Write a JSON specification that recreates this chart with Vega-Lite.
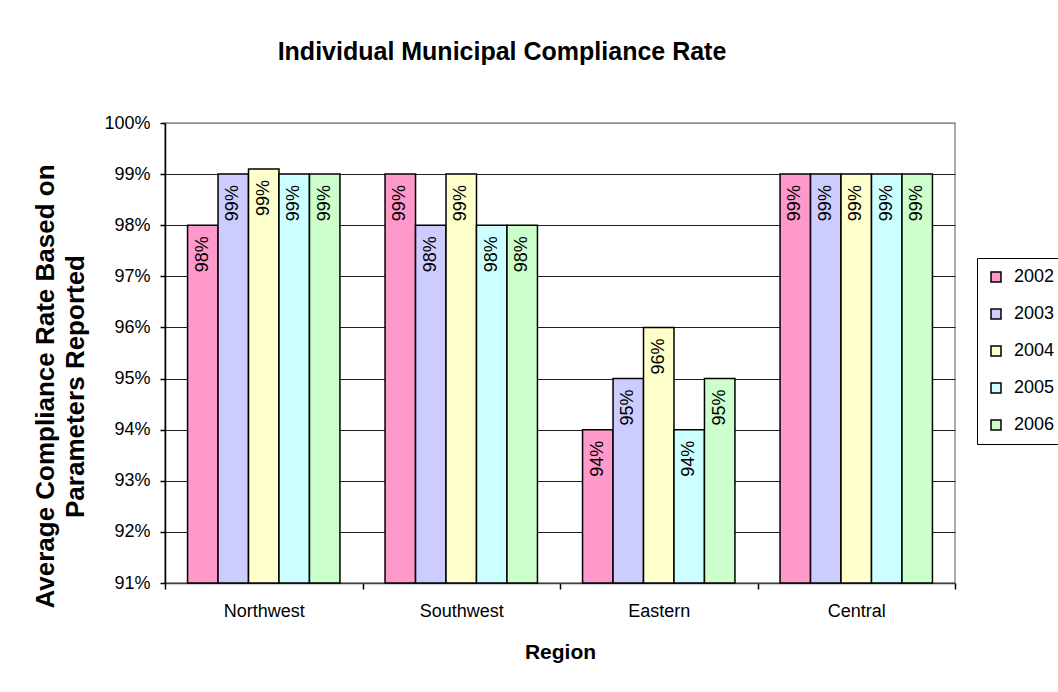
{
  "$schema": "https://vega.github.io/schema/vega-lite/v6.json",
  "width": 790,
  "height": 460,
  "autosize": {"type": "none"},
  "padding": {"left": 165, "top": 123, "right": 103, "bottom": 109},
  "background": "white",
  "title": {
    "text": "Individual Municipal Compliance Rate",
    "font": "Liberation Sans",
    "fontSize": 25,
    "fontWeight": "bold",
    "color": "black",
    "anchor": "middle",
    "frame": "group",
    "dx": -58,
    "offset": 29,
    "baseline": "alphabetic"
  },
  "data": {
    "values": [
      {"region": "Northwest", "year": "2002", "rate": 0.98},
      {"region": "Northwest", "year": "2003", "rate": 0.99},
      {"region": "Northwest", "year": "2004", "rate": 0.991},
      {"region": "Northwest", "year": "2005", "rate": 0.99},
      {"region": "Northwest", "year": "2006", "rate": 0.99},
      {"region": "Southwest", "year": "2002", "rate": 0.99},
      {"region": "Southwest", "year": "2003", "rate": 0.98},
      {"region": "Southwest", "year": "2004", "rate": 0.99},
      {"region": "Southwest", "year": "2005", "rate": 0.98},
      {"region": "Southwest", "year": "2006", "rate": 0.98},
      {"region": "Eastern", "year": "2002", "rate": 0.94},
      {"region": "Eastern", "year": "2003", "rate": 0.95},
      {"region": "Eastern", "year": "2004", "rate": 0.96},
      {"region": "Eastern", "year": "2005", "rate": 0.94},
      {"region": "Eastern", "year": "2006", "rate": 0.95},
      {"region": "Central", "year": "2002", "rate": 0.99},
      {"region": "Central", "year": "2003", "rate": 0.99},
      {"region": "Central", "year": "2004", "rate": 0.99},
      {"region": "Central", "year": "2005", "rate": 0.99},
      {"region": "Central", "year": "2006", "rate": 0.99}
    ]
  },
  "encoding": {
    "x": {
      "field": "region",
      "type": "nominal",
      "sort": ["Northwest", "Southwest", "Eastern", "Central"],
      "scale": {"paddingInner": 0, "paddingOuter": 0},
      "axis": {
        "title": "Region",
        "titleFont": "Liberation Sans",
        "titleFontSize": 21,
        "titleFontWeight": "bold",
        "titleColor": "black",
        "titlePadding": 21,
        "labelFont": "Liberation Sans",
        "labelFontSize": 18,
        "labelColor": "black",
        "labelAngle": 0,
        "labelPadding": 13,
        "tickBand": "extent",
        "tickSize": 6,
        "tickColor": "black",
        "tickWidth": 1.5,
        "domainColor": "#404040",
        "domainWidth": 1.5,
        "grid": false
      }
    },
    "xOffset": {
      "field": "year",
      "type": "nominal",
      "scale": {"paddingInner": 0, "paddingOuter": 0.74}
    }
  },
  "layer": [
    {
      "mark": {"type": "bar", "stroke": "black", "strokeWidth": 1.5, "opacity": 1},
      "encoding": {
        "y": {
          "field": "rate",
          "type": "quantitative",
          "scale": {"domain": [0.91, 1], "zero": false, "nice": false},
          "axis": {
            "values": [0.91, 0.92, 0.93, 0.94, 0.95, 0.96, 0.97, 0.98, 0.99, 1],
            "format": ".0%",
            "title": ["Average Compliance Rate Based on", "Parameters Reported"],
            "titleFont": "Liberation Sans",
            "titleFontSize": 26,
            "titleFontWeight": "bold",
            "titleColor": "black",
            "titleLineHeight": 30,
            "titlePadding": 15,
            "titleY": 263,
            "labelFont": "Liberation Sans",
            "labelFontSize": 18,
            "labelColor": "black",
            "labelPadding": 10,
            "tickSize": 5,
            "tickColor": "black",
            "tickWidth": 1.5,
            "domainColor": "black",
            "domainWidth": 1.5,
            "grid": true,
            "gridColor": {"condition": {"test": "datum.value >= 0.999", "value": "#909090"}, "value": "#202020"},
            "gridWidth": 1.2
          }
        },
        "y2": {"datum": 0.91},
        "fill": {
          "field": "year",
          "type": "nominal",
          "scale": {
            "domain": ["2002", "2003", "2004", "2005", "2006"],
            "range": ["#FF99CC", "#CCCCFF", "#FFFFCC", "#CCFFFF", "#CCFFCC"]
          },
          "legend": {
            "title": null,
            "orient": "none",
            "legendX": 812,
            "legendY": 135,
            "padding": 10,
            "rowPadding": 19,
            "strokeColor": "black",
            "fillColor": "white",
            "symbolType": "square",
            "symbolSize": 100,
            "symbolStrokeColor": "black",
            "symbolStrokeWidth": 1.5,
            "symbolOpacity": 1,
            "labelFont": "Liberation Sans",
            "labelFontSize": 18,
            "labelColor": "black",
            "labelOffset": 9
          }
        }
      }
    },
    {
      "mark": {
        "type": "text",
        "angle": 270,
        "align": "right",
        "baseline": "middle",
        "dx": -11,
        "font": "Liberation Sans",
        "fontSize": 18,
        "color": "black"
      },
      "encoding": {
        "y": {"field": "rate", "type": "quantitative"},
        "text": {"field": "rate", "type": "quantitative", "format": ".0%"}
      }
    }
  ],
  "config": {
    "view": {"stroke": "#909090", "strokeWidth": 1.5}
  }
}
